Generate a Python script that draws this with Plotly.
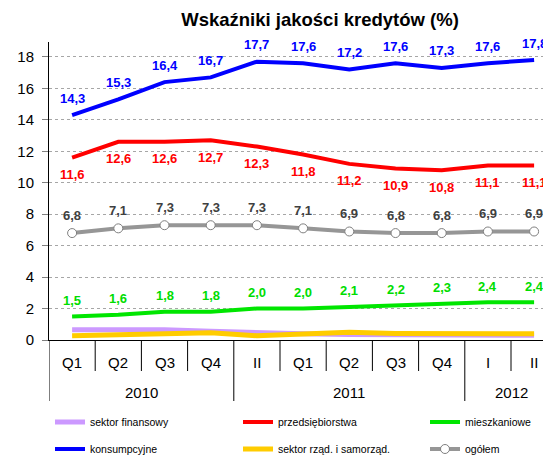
import plotly.graph_objects as go

# Periods on the category axis, grouped by year
periods = ["Q1", "Q2", "Q3", "Q4", "II", "Q1", "Q2", "Q3", "Q4", "I", "II"]
years = ["2010", "2011", "2012"]
year_spans = [4, 5, 2]

# Series values (%)
sektor_finansowy = [0.65, 0.65, 0.65, 0.55, 0.45, 0.40, 0.35, 0.35, 0.35, 0.35, 0.30]
przedsiebiorstwa = [11.6, 12.6, 12.6, 12.7, 12.3, 11.8, 11.2, 10.9, 10.8, 11.1, 11.1]
mieszkaniowe = [1.5, 1.6, 1.8, 1.8, 2.0, 2.0, 2.1, 2.2, 2.3, 2.4, 2.4]
konsumpcyjne = [14.3, 15.3, 16.4, 16.7, 17.7, 17.6, 17.2, 17.6, 17.3, 17.6, 17.8]
sektor_rzad = [0.27, 0.32, 0.36, 0.46, 0.27, 0.42, 0.49, 0.42, 0.40, 0.40, 0.40]
ogolem = [6.8, 7.1, 7.3, 7.3, 7.3, 7.1, 6.9, 6.8, 6.8, 6.9, 6.9]

y_ticks = [0, 2, 4, 6, 8, 10, 12, 14, 16, 18]

FONT = "Liberation Sans, Arial, sans-serif"
W, H = 543, 455
M_L, M_R, M_T, M_B = 49, 0, 42, 115
PLOT_W = W - M_L - M_R
PLOT_H = H - M_T - M_B
CAT_W = 46.2  # px per period

x = list(range(len(periods)))

# legend slot (column px, row px) for each series
LEG_COLS = [50, 238, 425]
LEG_ROWS = [422, 449]

fig = go.Figure()

series = [
    ("sektor finansowy", sektor_finansowy, "#CC99FF", 5),
    ("przedsiębiorstwa", przedsiebiorstwa, "#FF0000", 4),
    ("mieszkaniowe", mieszkaniowe, "#00E600", 4),
    ("konsumpcyjne", konsumpcyjne, "#0000FF", 4),
    ("sektor rząd. i samorząd.", sektor_rzad, "#FFCC00", 5),
]
for i, (name, vals, col, lw) in enumerate(series):
    fig.add_trace(go.Scatter(
        x=x, y=vals, name=name, mode="lines",
        line=dict(color=col, width=lw),
        legend="legend" if i == 0 else f"legend{i + 1}",
    ))

fig.add_trace(go.Scatter(
    x=x, y=ogolem, name="ogółem", mode="lines+markers",
    line=dict(color="#969696", width=4),
    marker=dict(symbol="circle", size=9, color="white",
                line=dict(color="#7f7f7f", width=1)),
    legend="legend6",
))

def fmt(v):
    return f"{v:.1f}".replace(".", ",")

annotations = []

# Value labels
labelled = [
    (konsumpcyjne, "#0000FF", 17),
    (przedsiebiorstwa, "#FF0000", -17),
    (ogolem, "#404040", 18),
    (mieszkaniowe, "#00DD00", 16),
]
for vals, col, shift in labelled:
    for xi, v in zip(x, vals):
        annotations.append(dict(
            x=xi, y=v, xref="x", yref="y", text=fmt(v), showarrow=False,
            yshift=shift, xanchor="center", yanchor="middle",
            font=dict(family=FONT, size=13, color=col, weight="bold"),
        ))

# Period labels
for xi, p in zip(x, periods):
    annotations.append(dict(
        x=xi, y=0, xref="x", yref="paper", text=p, showarrow=False,
        yshift=-22, xanchor="center", yanchor="middle",
        font=dict(family=FONT, size=15, color="black"),
    ))

# Year labels and group dividers
shapes = []
start = 0
for yr, span in zip(years, year_spans):
    annotations.append(dict(
        x=start + (span - 1) / 2, y=0, xref="x", yref="paper", text=yr,
        showarrow=False, yshift=-52, xanchor="center", yanchor="middle",
        font=dict(family=FONT, size=15, color="black"),
    ))
    shapes.append(dict(
        type="line", xref="x", yref="paper", x0=start - 0.5, x1=start - 0.5,
        y0=0, y1=-61 / PLOT_H, line=dict(color="black", width=1),
    ))
    for k in range(1, span):
        b = start + k - 0.5
        shapes.append(dict(
            type="line", xref="x", yref="paper", x0=b, x1=b,
            y0=0, y1=-31 / PLOT_H, line=dict(color="black", width=1),
        ))
    start += span

legends = {}
for i in range(6):
    key = "legend" if i == 0 else f"legend{i + 1}"
    col_px = LEG_COLS[i % 3]
    row_px = LEG_ROWS[i // 3]
    legends[key] = dict(
        orientation="h", xanchor="left", yanchor="middle",
        x=(col_px - M_L) / PLOT_W, y=-(row_px - (H - M_B)) / PLOT_H,
        font=dict(family=FONT, size=10.5, color="black"),
        bgcolor="rgba(0,0,0,0)", itemwidth=30,
    )

fig.update_layout(
    width=W, height=H,
    margin=dict(l=M_L, r=M_R, t=M_T, b=M_B, autoexpand=False),
    paper_bgcolor="white", plot_bgcolor="white",
    showlegend=True,
    title=dict(
        text="Wskaźniki jakości kredytów (%)",
        x=320 / W, xanchor="center", xref="container",
        y=1 - 20 / H, yanchor="middle", yref="container",
        font=dict(family=FONT, size=18.5, color="black", weight="bold"),
    ),
    xaxis=dict(
        range=[-0.5, -0.5 + PLOT_W / CAT_W],
        showticklabels=False, ticks="", showgrid=False, zeroline=False,
        showline=True, linecolor="black", linewidth=1,
    ),
    yaxis=dict(
        range=[0, 18.95], tickvals=y_ticks, ticktext=[str(t) for t in y_ticks],
        showgrid=True, gridcolor="#A6A6A6", gridwidth=1, griddash="dot",
        zeroline=False, showline=True, linecolor="black", linewidth=1,
        ticks="outside", ticklen=6, tickcolor="#808080",
        tickfont=dict(family=FONT, size=15, color="black"),
        ticklabelstandoff=5,
    ),
    annotations=annotations,
    shapes=shapes,
    **legends,
)

fig.write_html("out.html")
